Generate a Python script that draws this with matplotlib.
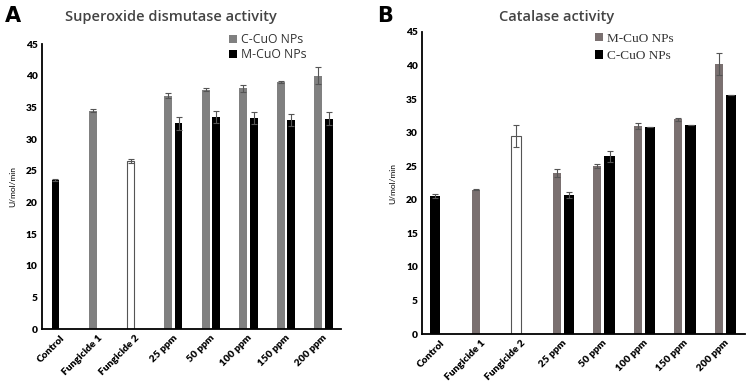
import matplotlib
matplotlib.use("Agg")
import matplotlib.pyplot as plt
import numpy as np

categories = ["Control", "Fungicide 1", "Fungicide 2", "25 ppm", "50 ppm", "100 ppm", "150 ppm", "200 ppm"]

# Panel A: Superoxide dismutase activity
sod_control, sod_control_err = 23.5, 0.2
sod_f1, sod_f1_err = 34.5, 0.2
sod_f2, sod_f2_err = 26.5, 0.3
sod_c = [36.8, 37.8, 38.0, 39.0, 40.0]
sod_c_err = [0.4, 0.2, 0.5, 0.2, 1.3]
sod_m = [32.5, 33.5, 33.3, 33.0, 33.2]
sod_m_err = [1.0, 0.9, 1.0, 1.0, 1.0]

# Panel B: Catalase activity
cat_control, cat_control_err = 20.5, 0.3
cat_f1, cat_f1_err = 21.5, 0.1
cat_f2, cat_f2_err = 29.5, 1.6
cat_m = [24.0, 25.0, 31.0, 32.0, 40.2]
cat_m_err = [0.6, 0.3, 0.4, 0.2, 1.6]
cat_c = [20.7, 26.5, 30.8, 31.2, 35.6]
cat_c_err = [0.4, 0.8, 0.0, 0.0, 0.0]

yticks = [0, 5, 10, 15, 20, 25, 30, 35, 40, 45]

fig = plt.figure(figsize=(7.47, 3.84), dpi=100)
axA = fig.add_axes([0.0562, 0.1432, 0.4003, 0.7422])
axB = fig.add_axes([0.565, 0.130, 0.432, 0.7867])

ekw = dict(error_kw=dict(ecolor="#555555", elinewidth=0.8, capsize=2, capthick=0.8))
tick_font = dict(family="Lato", weight="heavy", size=7.3)


def style(ax, xmin, xmax):
    ax.set_ylim(0, 45)
    ax.set_xlim(xmin, xmax)
    ax.set_yticks(yticks)
    ax.set_yticklabels([str(t) for t in yticks], fontdict=tick_font)
    ax.set_xticks(np.arange(len(categories)) + 0.12)
    ax.set_xticklabels(categories, rotation=45, ha="right", rotation_mode="anchor", fontdict=tick_font)
    for s in ["top", "right"]:
        ax.spines[s].set_visible(False)
    for s in ["left", "bottom"]:
        ax.spines[s].set_linewidth(1.3)
        ax.spines[s].set_color("black")
    ax.tick_params(length=0, pad=3)
    ax.set_ylabel("U/mol/min", fontsize=6, family="Lato", labelpad=7)


# Panel A
x = np.arange(3, 8)
wg = 0.21
axA.bar([0], [sod_control], wg, yerr=[sod_control_err], color="black", **ekw)
axA.bar([1], [sod_f1], wg, yerr=[sod_f1_err], color="#808080", **ekw)
axA.bar([2], [sod_f2], wg, yerr=[sod_f2_err], color="white", edgecolor="#555555", linewidth=0.8, **ekw)
axA.bar(x, sod_c, wg, yerr=sod_c_err, color="#808080", label="C-CuO NPs", **ekw)
axA.bar(x + 0.28, sod_m, wg, yerr=sod_m_err, color="black", label="M-CuO NPs", **ekw)
style(axA, -0.36, 7.61)
legA = axA.legend(loc="upper left", bbox_to_anchor=(0.61, 1.055), frameon=False,
                  prop=dict(family="Open Sans", size=8.8), handlelength=0.6, handleheight=0.6,
                  handletextpad=0.4, labelspacing=0.15, borderaxespad=0)
for t in legA.get_texts():
    t.set_color("#333333")

# Panel B
wb_g = 0.2
wb_b = 0.25
axB.bar([0], [cat_control], wb_b, yerr=[cat_control_err], color="black", **ekw)
axB.bar([1], [cat_f1], wb_g, yerr=[cat_f1_err], color="#7a7070", **ekw)
axB.bar([2], [cat_f2], wb_b, yerr=[cat_f2_err], color="white", edgecolor="#555555", linewidth=0.8, **ekw)
axB.bar(x, cat_m, wb_g, yerr=cat_m_err, color="#7a7070", label="M-CuO NPs", **ekw)
axB.bar(x + 0.3, cat_c, wb_b, yerr=cat_c_err, color="black", label="C-CuO NPs", **ekw)
style(axB, -0.33, 7.64)
legB = axB.legend(loc="upper left", bbox_to_anchor=(0.52, 1.015), frameon=False,
                  prop=dict(family="Liberation Serif", size=9.5), handlelength=0.6, handleheight=0.6,
                  handletextpad=0.3, labelspacing=0.4, borderaxespad=0)
for t in legB.get_texts():
    t.set_color("#333333")

# Titles and panel letters
fig.text(0.229, 0.975, "Superoxide dismutase activity", ha="center", va="top",
         fontsize=10.5, family="Open Sans", weight="semibold", color="#444444")
fig.text(0.745, 0.975, "Catalase activity", ha="center", va="top",
         fontsize=10.5, family="Open Sans", weight="semibold", color="#444444")
fig.text(0.006, 0.985, "A", ha="left", va="top", fontsize=15, family="DejaVu Sans", weight="bold")
fig.text(0.505, 0.985, "B", ha="left", va="top", fontsize=15, family="DejaVu Sans", weight="bold")

fig.savefig("out.png", dpi=100)
